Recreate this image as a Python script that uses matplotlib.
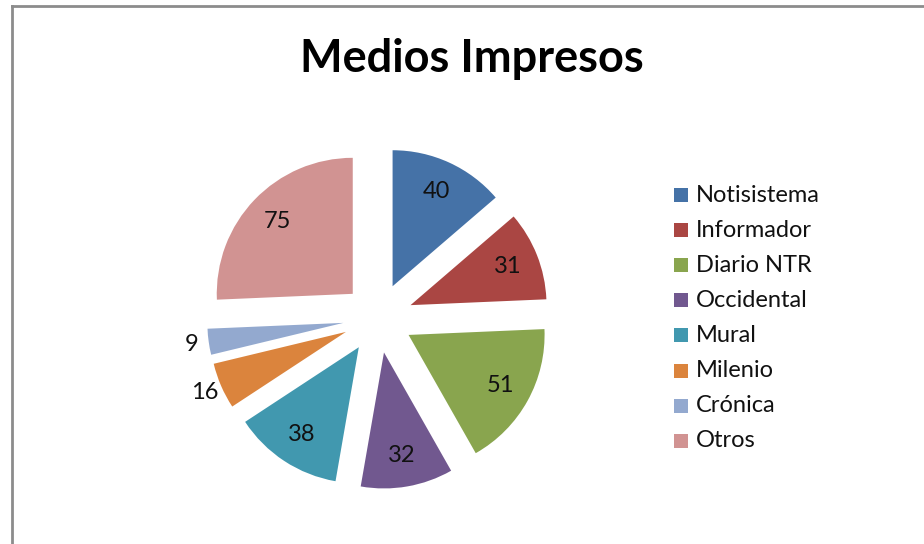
import numpy as np
import matplotlib
matplotlib.use("Agg")
import matplotlib.pyplot as plt
from matplotlib.patches import Rectangle
from matplotlib.lines import Line2D

categories = ["Notisistema", "Informador", "Diario NTR", "Occidental", "Mural", "Milenio", "Crónica", "Otros"]
values = [40, 31, 51, 32, 38, 16, 9, 75]
colors = ["#4572A7", "#AA4643", "#89A54E", "#71588F", "#4198AF", "#DB843D", "#93A9CF", "#D19392"]
title = "Medios Impresos"

W, H = 924, 544
fig = plt.figure(figsize=(W / 100, H / 100), dpi=100)
plt.rcParams['font.family'] = ['Lato', 'DejaVu Sans']

# border lines (left and top)
fig.add_artist(Line2D([11.5 / W, 11.5 / W], [0, 1 - 5.5 / H], transform=fig.transFigure, color="#8c8c8c", lw=2))
fig.add_artist(Line2D([11.5 / W, 1], [1 - 5.5 / H, 1 - 5.5 / H], transform=fig.transFigure, color="#8c8c8c", lw=2))

# pie axes: center at (378, 318) px, radius 136 px
cx, cy, R = 378, 318, 136
half = 200
ax = fig.add_axes([(cx - half) / W, (H - cy - half) / H, 2 * half / W, 2 * half / H])
explode = [0.257] * len(values)
wedges, _ = ax.pie(values, colors=colors, startangle=90, counterclock=False,
                   explode=explode, radius=1, wedgeprops=dict(linewidth=0))
ax.set_xlim(-half / R, half / R)
ax.set_ylim(-half / R, half / R)
ax.set_aspect("equal")
ax.axis("off")

for i, w in enumerate(wedges):
    ang = np.deg2rad((w.theta1 + w.theta2) / 2)
    c = np.array(w.center)
    frac = values[i] / sum(values)
    dist = 0.77 if frac > 0.08 else 1.13
    x, y = c + dist * np.array([np.cos(ang), np.sin(ang)])
    ax.text(x, y, str(values[i]), ha="center", va="center", fontsize=17, color="#111111")

fig.text(472 / W, 1 - 59 / H, title, ha="center", va="center", fontsize=32.5, fontweight="bold", color="black")

# legend
for i, (lab, col) in enumerate(zip(categories, colors)):
    yc = 195 + i * 35.1
    fig.add_artist(Rectangle((674 / W, 1 - (yc + 7) / H), 14 / W, 14 / H, transform=fig.transFigure,
                             facecolor=col, edgecolor="none"))
    fig.text(696 / W, 1 - yc / H, lab, ha="left", va="center", fontsize=17, color="#111111")

fig.savefig("out.png", dpi=100)
